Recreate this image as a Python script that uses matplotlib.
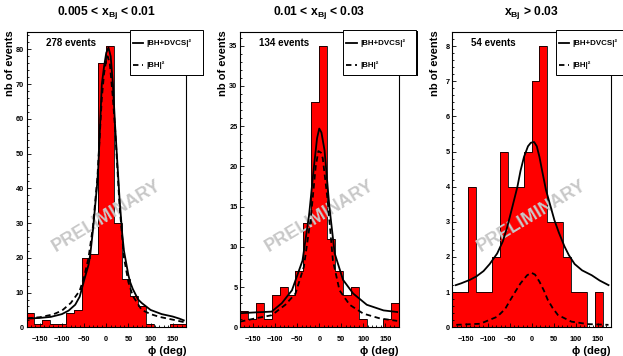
import numpy as np
import matplotlib
matplotlib.use("Agg")
import matplotlib.pyplot as plt
from matplotlib.patches import Rectangle
from matplotlib.lines import Line2D
from matplotlib.ticker import MultipleLocator

plt.rcParams['font.family'] = ['Liberation Sans', 'DejaVu Sans']
plt.rcParams['font.weight'] = 'bold'
plt.rcParams['mathtext.fontset'] = 'custom'
plt.rcParams['mathtext.rm'] = 'Liberation Sans:bold'
plt.rcParams['mathtext.it'] = 'Liberation Sans:bold'
plt.rcParams['mathtext.bf'] = 'Liberation Sans:bold'

# bins en phi (deg)
bin_edges = [-180, -162, -144, -126, -108, -90, -72, -54, -36, -18, 0,
             18, 36, 54, 72, 90, 108, 126, 144, 162, 180]

# nb d'evenements par bin
counts_1 = [4, 1, 2, 1, 1, 4, 5, 20, 21, 76, 81, 30, 14, 9, 6, 1, 0, 0, 1, 1]
counts_2 = [2, 1, 3, 1, 4, 5, 4, 7, 13, 28, 35, 11, 7, 4, 5, 1, 0, 0, 1, 3]
counts_3 = [1, 1, 4, 1, 1, 2, 5, 4, 4, 5, 7, 8, 3, 3, 2, 1, 1, 0, 1, 0]

# courbes |BH+DVCS|^2 (trait plein) et |BH|^2 (tirets)
phi_s1 = [-178, -150, -125, -100, -85, -70, -60, -50, -40, -36, -30, -20, -18, -10, -5, 0, 5, 10, 15, 20, 30, 36, 40, 50, 54, 60, 72, 80, 100, 125, 150, 165, 175]
val_s1 = [2.5, 2.7, 3.0, 3.8, 4.8, 6.5, 8.8, 13.5, 18, 21, 28, 42, 46, 70, 75, 79, 80.5, 78, 70, 58, 37, 27, 22, 15, 13, 11, 8, 7, 5, 3.8, 3.1, 2.5, 2.0]
phi_d1 = [-178, -150, -120, -100, -80, -60, -50, -40, -30, -20, -10, -5, 0, 3, 8, 15, 20, 30, 40, 50, 60, 80, 100, 120, 150, 175]
val_d1 = [2.6, 2.9, 3.7, 4.8, 7.0, 10.5, 14.5, 20, 29, 43, 66, 73, 77, 78, 76, 66, 57, 35, 20, 13, 9, 5, 3.8, 3.0, 2.2, 1.5]

phi_s2 = [-180, -146, -108, -85, -62, -38, -23, -12, -5, 0, 5, 12, 23, 35, 54, 77, 108, 146, 177]
val_s2 = [1.75, 1.85, 1.95, 3.0, 4.6, 8.3, 14, 20, 23.5, 24.7, 24.2, 22, 15, 9.2, 5.9, 4.2, 2.8, 2.1, 1.9]
phi_d2 = [-180, -146, -108, -77, -54, -35, -19, -8, -2, 4, 8, 19, 31, 46, 69, 100, 138, 177]
val_d2 = [0.7, 1.1, 1.5, 2.8, 4.2, 7.5, 13.7, 20, 21.9, 21.7, 21, 15.8, 8.3, 4.6, 2.8, 1.7, 1.1, 0.8]

phi_s3 = [-172, -160, -140, -125, -109, -95, -78, -65, -55, -45, -32, -25, -17, -8, -1.5, 6, 12, 18, 25, 33, 42, 52, 62, 75, 85, 98, 115, 137, 155, 175]
val_s3 = [1.2, 1.25, 1.35, 1.45, 1.6, 1.8, 2.1, 2.45, 2.86, 3.35, 4.0, 4.45, 4.85, 5.15, 5.25, 5.27, 5.15, 4.85, 4.4, 3.9, 3.5, 3.05, 2.7, 2.3, 2.05, 1.8, 1.62, 1.48, 1.33, 1.2]
phi_d3 = [-171, -117, -78, -60, -48, -35, -25, -10, 0, 8, 18, 28, 37, 48, 60, 91, 129, 175]
val_d3 = [0.07, 0.1, 0.3, 0.52, 0.78, 1.05, 1.25, 1.48, 1.55, 1.5, 1.3, 1.05, 0.78, 0.55, 0.35, 0.16, 0.09, 0.07]

titles = ["0.005 < x$_{Bj}$ < 0.01", "0.01 < x$_{Bj}$ < 0.03", "x$_{Bj}$ > 0.03"]
n_events = ["278 events", "134 events", "54 events"]
y_max = [85, 36.7, 8.4]
y_major = [10, 5, 1]
y_minor = [2, 1, 0.2]

W, H = 623, 356
fig = plt.figure(figsize=(W / 100, H / 100), dpi=100)

# position des cadres en pixels (gauche, haut, droite, bas)
frames = [(26.5, 32, 186, 327.3), (240, 32, 398.5, 327.3), (452.3, 32, 610.7, 327.3)]
counts_all = [counts_1, counts_2, counts_3]
solid_all = [(phi_s1, val_s1), (phi_s2, val_s2), (phi_s3, val_s3)]
dash_all = [(phi_d1, val_d1), (phi_d2, val_d2), (phi_d3, val_d3)]
ylab_off = [16.5, 17, 17]

for i in range(3):
    l, t, r, b = frames[i]
    ax = fig.add_axes([l / W, 1 - b / H, (r - l) / W, (b - t) / H])
    ax.stairs(counts_all[i], bin_edges, fill=True, color="red", zorder=1)
    ax.stairs(counts_all[i], bin_edges, color="black", lw=0.6, zorder=2)
    ax.text(0.5, 0.376, "PRELIMINARY", transform=ax.transAxes, rotation=31,
            fontsize=13, color="#c8c8c8", ha="center", va="center", zorder=3)
    ax.plot(solid_all[i][0], solid_all[i][1], color="black", lw=1.3, zorder=4)
    ax.plot(dash_all[i][0], dash_all[i][1], color="black", lw=1.3,
            linestyle=(0, (3, 2)), zorder=4)

    ax.set_xlim(-180, 180)
    ax.set_ylim(0, y_max[i])
    ax.xaxis.set_major_locator(MultipleLocator(50))
    ax.xaxis.set_minor_locator(MultipleLocator(10))
    ax.yaxis.set_major_locator(MultipleLocator(y_major[i]))
    ax.yaxis.set_minor_locator(MultipleLocator(y_minor[i]))
    ax.tick_params(which="both", direction="in", top=False, right=False, width=0.6)
    ax.tick_params(which="major", length=3.2, labelsize=5.3)
    ax.tick_params(which="minor", length=1.6)
    ax.tick_params(axis="x", pad=6.5)
    ax.tick_params(axis="y", pad=1.8)
    for lab in ax.get_xticklabels() + ax.get_yticklabels():
        lab.set_fontweight("bold")
    for sp in ax.spines.values():
        sp.set_linewidth(0.8)

    ax.text(19 / (r - l), 0.963, n_events[i], transform=ax.transAxes,
            fontsize=7, ha="left", va="center")
    ax.text(1.0, -0.081, "ϕ (deg)", transform=ax.transAxes, fontsize=8,
            ha="right", va="center")
    ax.text(-ylab_off[i] / (r - l), 1.007, "nb of events", transform=ax.transAxes,
            fontsize=8, rotation=90, ha="center", va="top")
    fig.text((l + r) / 2 / W, 1 - 13 / H, titles[i], fontsize=8.7,
             ha="center", va="center")

    # legende facon ROOT
    lx0, lx1, ly0, ly1 = l + 103.5, l + 176.5, 30, 75
    fig.add_artist(Rectangle(((lx0 + 1.3) / W, 1 - (ly1 + 1.3) / H), (lx1 - lx0) / W,
                             (ly1 - ly0) / H, transform=fig.transFigure,
                             facecolor="black", edgecolor="none", zorder=5))
    fig.add_artist(Rectangle((lx0 / W, 1 - ly1 / H), (lx1 - lx0) / W,
                             (ly1 - ly0) / H, transform=fig.transFigure,
                             facecolor="white", edgecolor="black", lw=0.7, zorder=6))
    for yy, lbl, ls in [(42.7, "|BH+DVCS|²", "-"), (65, "|BH|²", (0, (3, 2)))]:
        fig.add_artist(Line2D([(lx0 + 2.7) / W, (lx0 + 13.3) / W],
                              [1 - yy / H, 1 - yy / H], transform=fig.transFigure,
                              color="black", lw=1.3, linestyle=ls, zorder=7))
        fig.text((lx0 + 16.7) / W, 1 - yy / H, lbl, fontsize=5.7,
                 ha="left", va="center", zorder=7)

fig.savefig("out.png", dpi=100)
